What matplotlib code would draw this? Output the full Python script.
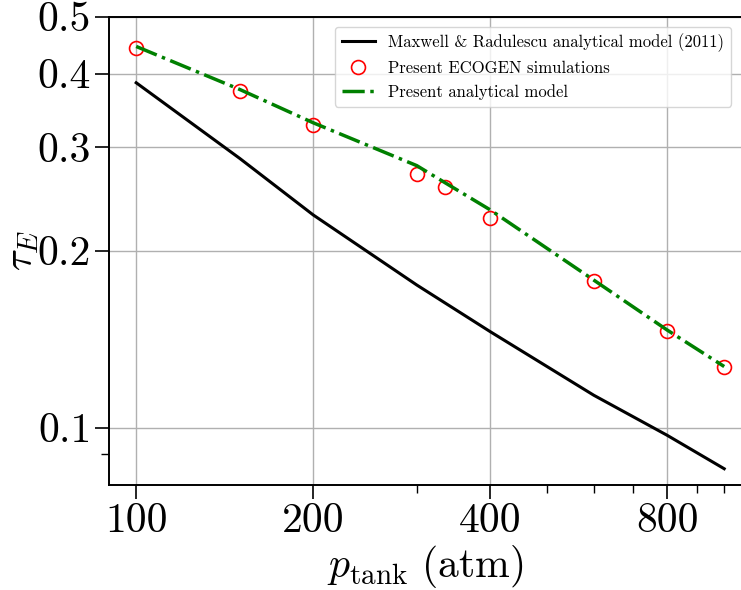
import matplotlib
matplotlib.use("Agg")
import matplotlib.pyplot as plt
from matplotlib.ticker import FixedLocator, NullFormatter

plt.rcParams['font.family'] = 'serif'
plt.rcParams['font.serif'] = ['cmr10', 'DejaVu Serif']
plt.rcParams['mathtext.fontset'] = 'cm'
plt.rcParams['axes.unicode_minus'] = False

# Maxwell & Radulescu (2011)
p_mr = [100, 150, 200, 300, 400, 600, 800, 1000]
tau_mr = [0.386, 0.287, 0.230, 0.1748, 0.1456, 0.1135, 0.0970, 0.0851]

# ECOGEN simulations
p_sim = [100, 150, 200, 300, 335, 400, 600, 800, 1000]
tau_sim = [0.442, 0.374, 0.3275, 0.270, 0.257, 0.227, 0.1773, 0.146, 0.1269]

# present analytical model
p_an = [100, 150, 200, 300, 335, 400, 600, 800, 1000]
tau_an = [0.445, 0.376, 0.330, 0.279, 0.261, 0.2346, 0.1782, 0.1465, 0.127]

xticks = [100, 200, 400, 800]
xminor = [300, 500, 600, 700, 900, 1000]
yticks = [0.1, 0.2, 0.3, 0.4, 0.5]
yminor = [0.09]

fig = plt.figure(figsize=(7.41, 5.90), dpi=100)
ax = fig.add_axes([0.1475, 0.1788, 0.8525, 0.7929])

ax.plot(p_mr, tau_mr, color='black', lw=2.2,
        label='Maxwell & Radulescu analytical model (2011)')
ax.plot(p_sim, tau_sim, 'o', mfc='none', mec='red', ms=10, mew=1.2,
        label='Present ECOGEN simulations')
ax.plot(p_an, tau_an, '-.', color='green', lw=2.5,
        label='Present analytical model')

ax.set_xscale('log')
ax.set_yscale('log')
ax.set_xlim(90, 1068)
ax.set_ylim(0.08, 0.5)

ax.xaxis.set_major_locator(FixedLocator(xticks))
ax.xaxis.set_minor_locator(FixedLocator(xminor))
ax.yaxis.set_major_locator(FixedLocator(yticks))
ax.yaxis.set_minor_locator(FixedLocator(yminor))
ax.set_xticklabels([str(v) for v in xticks])
ax.set_yticklabels([str(v) for v in yticks])
ax.xaxis.set_minor_formatter(NullFormatter())
ax.yaxis.set_minor_formatter(NullFormatter())

ax.tick_params(which='major', direction='out', length=10, width=1.2,
               labelsize=30, pad=3)
ax.tick_params(which='minor', direction='out', length=6, width=1.0)
ax.spines['right'].set_visible(False)
for s in ['left', 'bottom', 'top']:
    ax.spines[s].set_linewidth(1.4)

ax.grid(True, which='major', color='#b0b0b0', lw=1.0)

ax.set_xlabel(r'$p_\mathrm{tank}\ (\mathrm{atm})$', fontsize=30, labelpad=2)
ax.set_ylabel(r'$\tau_E$', fontsize=29)
ax.yaxis.set_label_coords(-0.108, 0.5)

ax.legend(loc='upper right', fontsize=12, handlelength=2.0,
          borderaxespad=0.6)

fig.savefig('out.png', dpi=100)
